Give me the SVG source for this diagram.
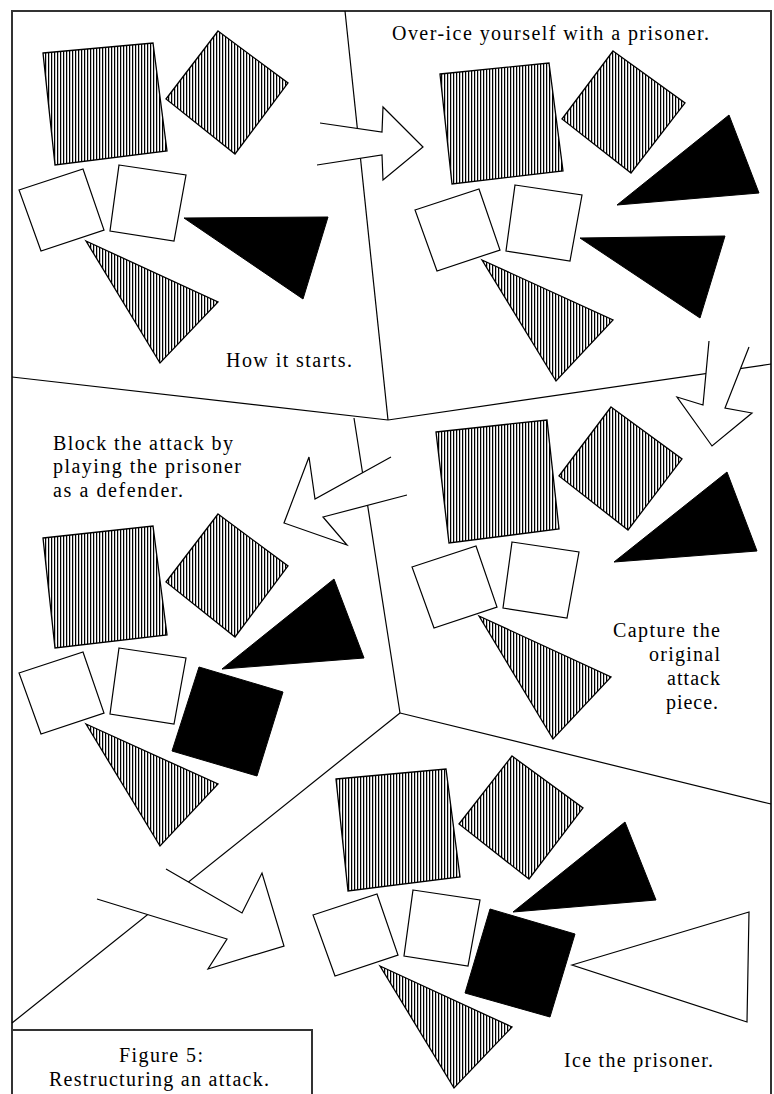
<svg xmlns="http://www.w3.org/2000/svg" width="774" height="1094" viewBox="0 0 774 1094">
<defs>
<pattern id="hatch" patternUnits="userSpaceOnUse" width="3" height="4">
<rect width="3" height="4" fill="#fff"/>
<rect width="1" height="4" fill="#000"/>
<rect x="1" width="1" height="4" fill="#c4c4c4"/>
</pattern>
<style>
.frame{fill:none;stroke:#333;stroke-width:2}
.div{fill:none;stroke:#000;stroke-width:1.2}
.arrow-fill{fill:#fff;stroke:none}
.arrow{fill:none;stroke:#000;stroke-width:1.2;stroke-linejoin:miter}
.h{fill:url(#hatch);stroke:#000;stroke-width:1.3}
.w{fill:#fff;stroke:#000;stroke-width:1.2}
.b{fill:#000;stroke:#000;stroke-width:1}
.t{font-family:"Liberation Serif","Times New Roman",serif;font-size:20px;fill:#000}
</style>
</defs>
<rect width="774" height="1094" fill="#fff"/>

<g id="frame">
<polyline class="frame" points="12,1094 12,11 771,11 771,1094"/>
<polyline class="frame" points="12,1030 312,1030 312,1094"/>
</g>

<g id="dividers">
<line class="div" x1="345" y1="11" x2="388" y2="420"/>
<line class="div" x1="12" y1="377" x2="388" y2="420"/>
<line class="div" x1="388" y1="420" x2="771" y2="364"/>
<line class="div" x1="354" y1="418" x2="400" y2="713"/>
<line class="div" x1="400" y1="713" x2="12" y2="1023"/>
<line class="div" x1="400" y1="713" x2="771" y2="804"/>
</g>

<g id="connectors">
<g id="arrow1">
<polygon class="arrow-fill" points="320,123 382,132 383,107 423,147 383,180 382,155 317,165"/>
<polyline class="arrow" points="320,123 382,132 383,107 423,147 383,180 382,155 317,165"/>
</g>
<g id="arrow2">
<polygon class="arrow-fill" points="709,341 703,405 677,397 712,446 752,413 725,408 749,347"/>
<polyline class="arrow" points="709,341 703,405 677,397 712,446 752,413 725,408 749,347"/>
</g>
<g id="arrow3">
<polygon class="arrow-fill" points="391,457 315,499 309,457 284,523 347,545 323,517 407,495"/>
<polyline class="arrow" points="391,457 315,499 309,457 284,523 347,545 323,517 407,495"/>
</g>
<g id="arrow4">
<polygon class="arrow-fill" points="166,869 242,913 262,873 284,946 208,969 227,939 97,899"/>
<polyline class="arrow" points="166,869 242,913 262,873 284,946 208,969 227,939 97,899"/>
</g>
</g>

<g id="panel1">
<polygon class="h" points="43,53 153,43 167,151 55,165"/>
<polygon class="h" points="218,31 288,83 235,154 166,99"/>
<polygon class="w" points="19,190 83,169 104,230 41,251"/>
<polygon class="w" points="119,165 186,175 174,241 110,231"/>
<polygon class="b" points="184,218 328,217 303,299"/>
<polygon class="h" points="86,241 218,302 160,363"/>
<text class="t" x="226" y="367" textLength="126" lengthAdjust="spacing">How it starts.</text>
</g>

<g id="panel2">
<polygon class="h" points="440,74 549,63 563,171 452,184"/>
<polygon class="h" points="613,51 685,103 631,173 562,119"/>
<polygon class="w" points="415,210 479,189 500,250 437,271"/>
<polygon class="w" points="515,185 582,195 570,261 506,251"/>
<polygon class="b" points="580,238 725,236 700,318"/>
<polygon class="h" points="482,260 613,320 556,381"/>
<polygon class="b" points="617,205 729,115 759,193"/>
<text class="t" x="392" y="40" textLength="317" lengthAdjust="spacing">Over-ice yourself with a prisoner.</text>
</g>

<g id="panel3">
<polygon class="h" points="436,432 547,420 559,529 449,543"/>
<polygon class="h" points="611,407 682,459 628,530 559,476"/>
<polygon class="w" points="412,567 476,546 497,607 434,628"/>
<polygon class="w" points="512,542 579,552 567,618 503,608"/>
<polygon class="h" points="479,616 611,677 553,739"/>
<polygon class="b" points="614,562 727,472 757,551"/>
<text class="t" x="613" y="637" textLength="107" lengthAdjust="spacing">Capture the</text>
<text class="t" x="649" y="661" textLength="71" lengthAdjust="spacing">original</text>
<text class="t" x="667" y="685" textLength="53" lengthAdjust="spacing">attack</text>
<text class="t" x="666" y="709" textLength="52" lengthAdjust="spacing">piece.</text>
</g>

<g id="panel4">
<polygon class="h" points="43,538 153,526 167,635 55,648"/>
<polygon class="h" points="218,514 288,566 235,637 166,582"/>
<polygon class="w" points="19,673 83,652 104,713 41,734"/>
<polygon class="w" points="119,648 186,658 174,724 110,714"/>
<polygon class="h" points="86,724 218,784 160,846"/>
<polygon class="b" points="222,669 334,579 364,658"/>
<polygon class="b" points="199,667 283,692 257,776 172,751"/>
<text class="t" x="53" y="450" textLength="180" lengthAdjust="spacing">Block the attack by</text>
<text class="t" x="53" y="473" textLength="188" lengthAdjust="spacing">playing the prisoner</text>
<text class="t" x="53" y="497" textLength="130" lengthAdjust="spacing">as a defender.</text>
</g>

<g id="panel5">
<polygon class="h" points="336,779 446,769 460,877 348,891"/>
<polygon class="h" points="512,756 583,808 529,879 459,824"/>
<polygon class="w" points="313,915 377,894 398,955 335,976"/>
<polygon class="w" points="413,890 480,900 468,966 404,956"/>
<polygon class="h" points="380,966 512,1027 454,1088"/>
<polygon class="b" points="513,912 625,822 656,900"/>
<polygon class="b" points="490,909 575,934 550,1017 465,993"/>
<polygon class="w" points="572,965 749,912 747,1022"/>
<text class="t" x="564" y="1067" textLength="149" lengthAdjust="spacing">Ice the prisoner.</text>
</g>

<g id="caption">
<text class="t" x="119" y="1062" textLength="84" lengthAdjust="spacing">Figure 5:</text>
<text class="t" x="49" y="1086" textLength="220" lengthAdjust="spacing">Restructuring an attack.</text>
</g>
</svg>
